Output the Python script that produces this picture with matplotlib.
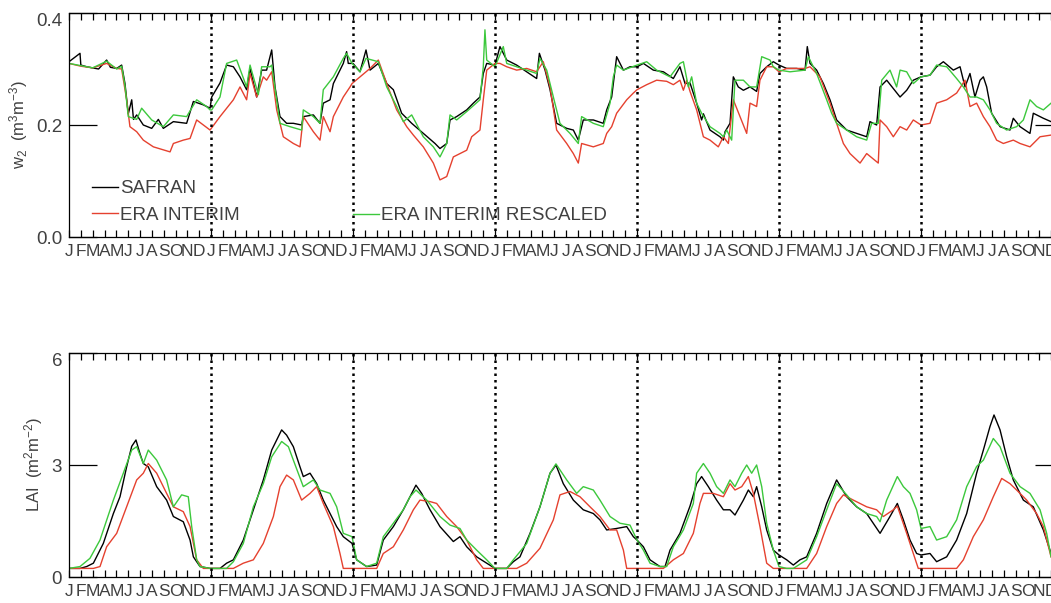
import matplotlib
matplotlib.use('Agg')
import matplotlib.pyplot as plt
import numpy as np
from matplotlib import font_manager as fm

# ---------------- data (time in months since start of year 1) ----------------
months = ['J', 'F', 'M', 'A', 'M', 'J', 'J', 'A', 'S', 'O', 'N', 'D']
n_years = 7

w2_safran = [
    (0, 0.313), (0.93, 0.328), (1.0, 0.307), (1.5, 0.304), (2.5, 0.300), (3.18, 0.316), (3.5, 0.303),
    (4.03, 0.301), (4.45, 0.307), (4.73, 0.274), (5.01, 0.22), (5.3, 0.245), (5.45, 0.21), (5.72, 0.218),
    (6.28, 0.20), (6.99, 0.194), (7.55, 0.21), (7.97, 0.194), (8.82, 0.206), (9.94, 0.203), (10.51, 0.242),
    (11.35, 0.236), (11.92, 0.23),
    (12.06, 0.25), (12.76, 0.275), (13.32, 0.307), (13.89, 0.304), (14.45, 0.286), (15.01, 0.263), (15.3, 0.301),
    (15.86, 0.25), (16.28, 0.298), (16.7, 0.298), (17.13, 0.334), (17.41, 0.268), (17.83, 0.215), (18.39, 0.203),
    (18.96, 0.203), (19.66, 0.2), (19.8, 0.215), (20.65, 0.218), (21.21, 0.203), (21.49, 0.239), (22.06, 0.245),
    (22.34, 0.274), (22.62, 0.286), (23.18, 0.31), (23.46, 0.331), (23.6, 0.31), (24.0, 0.31),
    (24.59, 0.295), (25.1, 0.334), (25.44, 0.298), (26.14, 0.31), (26.85, 0.274), (27.41, 0.263), (28.11, 0.221),
    (28.96, 0.203), (29.94, 0.185), (30.93, 0.167), (31.35, 0.158), (31.92, 0.167), (32.2, 0.209), (32.76, 0.215),
    (33.61, 0.227), (34.17, 0.239), (34.73, 0.25), (35.01, 0.292), (35.3, 0.31), (36.0, 0.307),
    (36.42, 0.34), (36.99, 0.316), (37.83, 0.307), (38.68, 0.295), (39.52, 0.283), (39.75, 0.328), (40.23, 0.298),
    (40.65, 0.263), (41.21, 0.203), (42.06, 0.194), (42.62, 0.191), (43.04, 0.173), (43.46, 0.209), (44.31, 0.209),
    (45.15, 0.203), (45.44, 0.227), (45.86, 0.25), (46.28, 0.322), (46.85, 0.298), (47.41, 0.304), (48.0, 0.304),
    (48.54, 0.31), (49.38, 0.298), (50.23, 0.295), (51.07, 0.283), (51.63, 0.304), (52.06, 0.274), (52.48, 0.275),
    (53.04, 0.239), (53.46, 0.209), (53.61, 0.22), (54.17, 0.191), (55.01, 0.179), (55.3, 0.173), (55.44, 0.188),
    (55.86, 0.203), (56.14, 0.286), (56.56, 0.268), (56.99, 0.262), (57.55, 0.268), (58.11, 0.26), (58.39, 0.292),
    (58.96, 0.304), (59.52, 0.313), (60.0, 0.307),
    (60.65, 0.301), (61.49, 0.301), (62.2, 0.298), (62.39, 0.34), (62.62, 0.31), (63.18, 0.298), (63.75, 0.274),
    (64.31, 0.245), (64.87, 0.209), (65.72, 0.191), (66.56, 0.185), (67.41, 0.179), (67.69, 0.206), (68.25, 0.2),
    (68.54, 0.268), (69.1, 0.28), (69.66, 0.265), (70.23, 0.25), (70.79, 0.262), (71.35, 0.28), (72.0, 0.286),
    (72.76, 0.289), (73.32, 0.304), (73.89, 0.313), (74.73, 0.298), (75.3, 0.304), (75.72, 0.268), (76.14, 0.292),
    (76.56, 0.25), (76.99, 0.28), (77.27, 0.286), (77.55, 0.268), (77.97, 0.221), (78.68, 0.197), (79.52, 0.191),
    (79.8, 0.212), (80.37, 0.197), (81.21, 0.185), (81.49, 0.221), (82.34, 0.212), (82.99, 0.206),
]

w2_era = [
    (0, 0.31), (1.0, 0.305), (2.0, 0.302), (3.18, 0.31), (4.03, 0.301), (4.45, 0.30), (4.87, 0.245), (5.15, 0.197),
    (5.72, 0.188), (6.28, 0.173), (7.13, 0.161), (8.54, 0.152), (8.82, 0.167), (9.66, 0.173), (10.23, 0.176),
    (10.79, 0.209), (11.35, 0.2), (11.92, 0.191),
    (12.76, 0.215), (13.89, 0.245), (14.45, 0.268), (15.01, 0.245), (15.3, 0.292), (15.86, 0.25), (16.42, 0.286),
    (16.7, 0.28), (17.13, 0.295), (17.55, 0.227), (18.11, 0.179), (18.96, 0.167), (19.52, 0.161), (19.8, 0.215),
    (20.65, 0.188), (21.21, 0.173), (21.49, 0.215), (22.06, 0.188), (22.34, 0.215), (23.18, 0.25), (23.75, 0.268),
    (23.92, 0.274),
    (24.59, 0.286), (25.44, 0.301), (26.14, 0.316), (26.85, 0.274), (27.69, 0.227), (28.54, 0.197), (29.1, 0.182),
    (29.94, 0.161), (30.79, 0.132), (31.35, 0.102), (31.92, 0.108), (32.48, 0.143), (33.04, 0.149), (33.61, 0.155),
    (34.03, 0.179), (34.73, 0.191), (35.01, 0.245), (35.3, 0.298), (36.0, 0.31),
    (36.42, 0.31), (36.99, 0.304), (37.83, 0.298), (38.68, 0.301), (39.52, 0.295), (40.08, 0.313), (40.65, 0.268),
    (41.21, 0.191), (42.06, 0.167), (42.62, 0.149), (43.04, 0.132), (43.32, 0.167), (44.31, 0.161), (45.15, 0.167),
    (45.44, 0.185), (45.86, 0.197), (46.28, 0.221), (47.13, 0.245), (47.69, 0.257), (48.0, 0.263),
    (48.82, 0.272), (49.66, 0.28), (50.51, 0.278), (51.07, 0.272), (51.63, 0.28), (51.92, 0.262), (52.2, 0.28),
    (52.48, 0.26), (53.04, 0.227), (53.61, 0.179), (54.17, 0.173), (54.87, 0.161), (55.3, 0.179), (55.72, 0.167),
    (56.14, 0.245), (56.7, 0.215), (57.27, 0.185), (57.55, 0.239), (58.11, 0.233), (58.39, 0.28), (58.96, 0.304),
    (59.52, 0.304), (60.0, 0.295),
    (60.65, 0.301), (61.49, 0.301), (62.2, 0.301), (62.62, 0.304), (63.46, 0.286), (64.31, 0.239), (64.87, 0.203),
    (65.44, 0.167), (66.0, 0.149), (66.85, 0.132), (67.41, 0.149), (68.39, 0.132), (68.54, 0.209), (69.1, 0.197),
    (69.66, 0.179), (70.23, 0.197), (70.79, 0.191), (71.35, 0.209), (72.0, 0.2),
    (72.76, 0.203), (73.32, 0.239), (74.17, 0.245), (75.01, 0.257), (75.72, 0.28), (76.14, 0.233), (76.7, 0.239),
    (77.27, 0.215), (77.83, 0.197), (78.39, 0.173), (78.96, 0.167), (79.8, 0.173), (80.37, 0.167), (81.21, 0.161),
    (82.06, 0.179), (82.99, 0.182),
]

w2_rescaled = [
    (0, 0.31), (1.0, 0.306), (2.0, 0.302), (3.18, 0.314), (4.03, 0.30), (4.45, 0.305), (4.73, 0.27), (5.01, 0.215),
    (5.72, 0.21), (6.14, 0.23), (6.99, 0.209), (7.97, 0.197), (8.82, 0.218), (9.94, 0.215), (10.79, 0.245),
    (11.63, 0.233), (11.92, 0.227),
    (12.06, 0.227), (12.76, 0.25), (13.32, 0.31), (14.17, 0.316), (15.01, 0.268), (15.3, 0.307), (16.0, 0.254),
    (16.28, 0.304), (16.99, 0.304), (17.13, 0.307), (17.55, 0.245), (17.83, 0.203), (18.68, 0.197), (19.66, 0.191),
    (19.8, 0.227), (20.65, 0.215), (21.21, 0.203), (21.49, 0.263), (22.34, 0.286), (23.18, 0.319), (23.46, 0.328),
    (23.92, 0.31),
    (24.59, 0.295), (25.1, 0.319), (26.14, 0.313), (26.85, 0.268), (27.69, 0.233), (28.25, 0.206), (28.96, 0.218),
    (29.94, 0.179), (30.79, 0.161), (31.35, 0.143), (31.92, 0.167), (32.2, 0.218), (32.76, 0.209), (33.61, 0.224),
    (34.73, 0.245), (35.01, 0.304), (35.15, 0.37), (35.3, 0.316), (36.0, 0.304),
    (36.7, 0.34), (36.99, 0.31), (37.83, 0.304), (38.68, 0.298), (39.52, 0.292), (39.8, 0.319), (40.37, 0.298),
    (40.93, 0.25), (41.49, 0.203), (42.34, 0.185), (43.04, 0.167), (43.32, 0.215), (44.31, 0.203), (45.15, 0.197),
    (45.72, 0.239), (46.0, 0.286), (46.28, 0.307), (46.85, 0.298), (48.0, 0.307),
    (48.82, 0.313), (49.66, 0.298), (50.79, 0.286), (51.63, 0.31), (51.92, 0.313), (52.34, 0.268), (52.62, 0.286),
    (53.04, 0.239), (53.46, 0.221), (54.17, 0.197), (55.01, 0.185), (55.3, 0.179), (55.58, 0.191), (56.0, 0.173),
    (56.28, 0.28), (56.99, 0.28), (57.55, 0.268), (58.11, 0.268), (58.54, 0.322), (59.24, 0.316), (59.52, 0.304),
    (60.0, 0.298),
    (60.93, 0.295), (62.2, 0.298), (62.48, 0.322), (63.18, 0.292), (64.03, 0.245), (64.45, 0.221), (64.87, 0.203),
    (65.72, 0.191), (66.56, 0.179), (67.41, 0.173), (67.83, 0.203), (68.39, 0.203), (68.68, 0.28), (69.38, 0.298),
    (69.94, 0.268), (70.23, 0.298), (70.79, 0.295), (71.35, 0.274), (72.0, 0.286),
    (72.76, 0.289), (73.32, 0.307), (74.17, 0.304), (75.01, 0.283), (75.58, 0.268), (76.14, 0.25), (76.7, 0.25),
    (77.27, 0.245), (77.83, 0.227), (78.39, 0.203), (79.24, 0.191), (80.08, 0.197), (80.65, 0.209), (81.21, 0.245),
    (81.77, 0.233), (82.34, 0.227), (82.99, 0.239),
]

lai_safran = [
    (0, 0.23), (0.93, 0.23), (1.49, 0.28), (2.06, 0.37), (2.9, 0.9), (3.75, 1.7), (4.31, 2.15), (4.87, 2.95),
    (5.3, 3.5), (5.66, 3.67), (6.0, 3.3), (6.28, 3.04), (6.7, 2.95), (7.41, 2.42), (8.25, 2.06), (8.82, 1.62),
    (9.66, 1.48), (10.23, 0.99), (10.51, 0.54), (11.07, 0.28), (11.92, 0.23),
    (12.76, 0.23), (13.32, 0.37), (13.89, 0.46), (14.73, 0.99), (15.58, 1.8), (16.42, 2.6), (17.13, 3.4),
    (17.97, 3.94), (18.39, 3.8), (18.96, 3.49), (19.52, 2.95), (19.8, 2.69), (20.37, 2.78), (20.93, 2.5),
    (21.49, 2.06), (22.06, 1.7), (22.62, 1.35), (23.18, 1.08), (23.92, 0.9),
    (24.31, 0.46), (25.15, 0.28), (26.0, 0.32), (26.56, 0.99), (27.41, 1.35), (28.25, 1.8), (28.82, 2.15),
    (29.32, 2.46), (29.8, 2.24), (30.51, 1.8), (31.35, 1.35), (32.48, 0.95), (33.04, 1.08), (33.61, 0.81),
    (34.45, 0.54), (35.3, 0.37), (36.0, 0.23),
    (36.99, 0.23), (37.55, 0.41), (38.11, 0.54), (38.96, 1.17), (39.8, 1.88), (40.65, 2.78), (41.15, 3.0),
    (41.77, 2.5), (42.62, 2.06), (43.46, 1.8), (44.31, 1.7), (44.87, 1.53), (45.44, 1.26), (46.28, 1.3),
    (47.13, 1.35), (47.69, 1.08), (48.0, 0.99),
    (48.54, 0.81), (49.1, 0.46), (49.94, 0.28), (50.37, 0.28), (50.79, 0.72), (51.63, 1.17), (52.48, 1.9),
    (53.04, 2.5), (53.46, 2.69), (54.03, 2.42), (54.73, 2.06), (55.3, 1.8), (55.86, 1.8), (56.28, 1.66),
    (56.99, 2.06), (57.41, 2.33), (57.83, 2.15), (58.11, 2.42), (58.54, 1.88), (58.96, 1.26), (59.52, 0.72),
    (60.0, 0.59),
    (60.65, 0.46), (61.21, 0.32), (61.77, 0.46), (62.34, 0.54), (63.18, 1.17), (64.03, 1.97), (64.87, 2.6),
    (65.72, 2.15), (66.56, 1.88), (67.41, 1.7), (68.54, 1.17), (69.38, 1.62), (70.0, 1.97), (70.51, 1.53),
    (71.07, 0.99), (71.63, 0.63), (72.0, 0.59),
    (72.76, 0.63), (73.32, 0.41), (74.17, 0.54), (75.01, 0.99), (75.86, 1.7), (76.7, 2.78), (77.27, 3.4),
    (77.83, 4.03), (78.17, 4.34), (78.68, 3.94), (79.24, 3.22), (79.8, 2.6), (80.65, 2.06), (81.49, 1.88),
    (82.34, 1.26), (82.99, 0.63),
]

lai_era = [
    (0, 0.23), (2.06, 0.23), (2.62, 0.28), (3.18, 0.81), (4.03, 1.17), (4.87, 1.88), (5.72, 2.6), (6.28, 2.78),
    (6.7, 3.04), (7.41, 2.78), (8.25, 2.24), (8.82, 1.88), (9.66, 1.75), (10.23, 1.35), (10.79, 0.46),
    (11.35, 0.23), (11.92, 0.23),
    (13.89, 0.23), (14.73, 0.37), (15.58, 0.46), (16.42, 0.9), (17.27, 1.62), (17.83, 2.42), (18.39, 2.73),
    (18.96, 2.6), (19.66, 2.06), (20.37, 2.24), (20.93, 2.42), (21.49, 1.97), (22.34, 1.35), (22.9, 0.63),
    (23.18, 0.23), (23.92, 0.23),
    (26.0, 0.23), (26.56, 0.63), (27.41, 0.81), (28.25, 1.26), (29.1, 1.8), (29.66, 2.06), (30.51, 2.02),
    (31.07, 1.97), (31.92, 1.62), (32.76, 1.35), (33.61, 0.99), (34.45, 0.46), (35.01, 0.23), (36.0, 0.23),
    (37.83, 0.23), (38.68, 0.37), (39.8, 0.77), (40.93, 1.53), (41.49, 2.2), (42.34, 2.29), (43.18, 2.15),
    (44.03, 1.88), (44.87, 1.62), (45.72, 1.26), (46.28, 1.26), (46.85, 0.72), (47.13, 0.23), (48.0, 0.23),
    (50.23, 0.23), (51.07, 0.46), (51.92, 0.63), (52.76, 1.17), (53.32, 1.97), (53.61, 2.24), (54.45, 2.24),
    (55.3, 2.15), (55.86, 2.5), (56.28, 2.33), (56.85, 2.42), (57.41, 2.69), (57.83, 2.24), (58.39, 1.35),
    (58.96, 0.37), (59.52, 0.23), (60.0, 0.23),
    (62.34, 0.23), (63.18, 0.63), (64.03, 1.35), (64.87, 1.97), (65.44, 2.2), (66.28, 2.06), (67.41, 1.88),
    (68.25, 1.8), (68.82, 1.62), (69.66, 1.8), (70.0, 1.9), (70.79, 1.17), (71.35, 0.63), (71.77, 0.23),
    (72.0, 0.23),
    (75.01, 0.23), (75.58, 0.46), (76.42, 1.08), (77.27, 1.53), (78.11, 2.15), (78.82, 2.64), (79.52, 2.5),
    (80.08, 2.33), (80.93, 2.06), (81.77, 1.7), (82.34, 1.35), (82.99, 0.54),
]

lai_rescaled = [
    (0, 0.23), (0.93, 0.28), (1.77, 0.5), (2.62, 0.99), (3.75, 2.06), (4.59, 2.78), (5.3, 3.4), (5.72, 3.49),
    (6.28, 3.04), (6.7, 3.4), (7.41, 3.13), (8.25, 2.6), (8.82, 1.88), (9.52, 2.2), (10.08, 2.15), (10.37, 1.35),
    (10.79, 0.46), (11.07, 0.28), (11.92, 0.23),
    (13.32, 0.23), (13.89, 0.41), (14.73, 0.9), (15.58, 1.88), (16.42, 2.5), (17.13, 3.22), (17.97, 3.63),
    (18.54, 3.49), (18.96, 3.13), (19.8, 2.42), (20.65, 2.6), (21.21, 2.33), (22.06, 2.24), (22.62, 1.88),
    (23.18, 1.17), (23.92, 1.08),
    (24.31, 0.46), (25.15, 0.28), (26.0, 0.37), (26.56, 1.08), (27.41, 1.44), (28.25, 1.8), (28.82, 2.15),
    (29.32, 2.33), (30.23, 2.06), (31.35, 1.62), (32.2, 1.39), (33.04, 1.3), (33.61, 0.99), (34.45, 0.72),
    (35.3, 0.46), (36.0, 0.23),
    (36.99, 0.23), (37.55, 0.46), (38.68, 0.9), (39.8, 1.88), (40.65, 2.78), (41.15, 3.03), (42.06, 2.6),
    (42.9, 2.24), (43.46, 2.42), (44.31, 2.33), (44.87, 2.06), (45.72, 1.62), (46.56, 1.44), (47.41, 1.39),
    (48.0, 0.99),
    (48.54, 0.72), (49.1, 0.37), (49.94, 0.28), (50.51, 0.28), (51.07, 0.81), (51.92, 1.26), (52.76, 1.97),
    (53.04, 2.78), (53.61, 3.04), (54.17, 2.78), (54.73, 2.42), (55.3, 2.24), (55.86, 2.6), (56.28, 2.42),
    (56.85, 2.78), (57.27, 3.0), (57.69, 2.78), (58.11, 3.0), (58.54, 2.42), (58.96, 1.44), (59.52, 0.72),
    (60.0, 0.28),
    (60.65, 0.23), (61.21, 0.23), (62.34, 0.46), (63.18, 1.08), (64.03, 1.8), (64.87, 2.5), (65.72, 2.2),
    (66.56, 1.88), (67.41, 1.7), (68.25, 1.62), (68.54, 1.48), (69.1, 2.06), (70.0, 2.69), (70.51, 2.42),
    (71.07, 2.24), (71.63, 1.8), (72.0, 1.3),
    (72.76, 1.35), (73.32, 0.99), (74.17, 1.08), (75.01, 1.53), (75.86, 2.42), (76.7, 2.96), (77.27, 3.13),
    (78.11, 3.71), (78.68, 3.49), (79.52, 2.78), (80.37, 2.42), (81.21, 2.24), (82.06, 1.8), (82.62, 1.17),
    (82.99, 0.54),
]

series_names = ['SAFRAN', 'ERA INTERIM', 'ERA INTERIM RESCALED']
series_colors = ['#000000', '#e5412f', '#3cc83c']

# ---------------- fonts ----------------
names = {f.name for f in fm.fontManager.ttflist}
main_font = 'Liberation Sans' if 'Liberation Sans' in names else 'DejaVu Sans'
narrow_font = 'Liberation Sans Narrow' if 'Liberation Sans Narrow' in names else main_font
plt.rcParams['font.family'] = [main_font, 'DejaVu Sans']
plt.rcParams['mathtext.fontset'] = 'custom'
plt.rcParams['mathtext.rm'] = main_font
plt.rcParams['mathtext.it'] = main_font
plt.rcParams['mathtext.default'] = 'regular'
text_color = '#404040'

# ---------------- figure ----------------
W, H = 1051, 603
fig = plt.figure(figsize=(W / 100, H / 100), dpi=100)
x0, x1 = 69, 1063
ax1 = fig.add_axes([x0 / W, 1 - 237 / H, (x1 - x0) / W, 224 / H])
ax2 = fig.add_axes([x0 / W, 1 - 577 / H, (x1 - x0) / W, 224 / H])

panels = [
    (ax1, [w2_safran, w2_era, w2_rescaled], (0, 0.4), [0, 0.2, 0.4], ['0.0', '0.2', '0.4']),
    (ax2, [lai_safran, lai_era, lai_rescaled], (0, 6), [0, 3, 6], ['0', '3', '6']),
]

handles = []
for ax, sets, ylim, yt, ytl in panels:
    hs = []
    for data, col in zip(sets, series_colors):
        t = [p[0] for p in data]
        v = [p[1] for p in data]
        h, = ax.plot(t, v, color=col, lw=1.0)
        hs.append(h)
    handles.append(hs)
    for yr in range(1, n_years):
        ax.axvline(12 * yr, color='black', lw=1.8, ls=(0, (1, 1.6)), zorder=3)
    ax.set_xlim(0, 12 * n_years)
    ax.set_ylim(*ylim)
    ax.set_xticks(np.arange(12 * n_years))
    ax.set_xticklabels(months * n_years, fontfamily=narrow_font, fontsize=12.5, color=text_color)
    ax.tick_params(axis='x', direction='in', length=5, width=0.9, top=True, bottom=True, pad=5)
    ax.set_yticks(yt)
    labs = ax.set_yticklabels(ytl, fontsize=13.5, color=text_color)
    labs[-1].set_va('top')
    ax.tick_params(axis='y', direction='in', length=20, width=0.9, left=True, right=True, pad=5)
    for s in ax.spines.values():
        s.set_linewidth(0.9)

fig.text(19 / W, 1 - 124 / H, r'w$_2$  (m$^3$m$^{-3}$)', rotation=90, ha='center', va='center',
         fontsize=12, color=text_color)
fig.text(34 / W, 1 - 465 / H, r'LAI  (m$^2$m$^{-2}$)', rotation=90, ha='center', va='center',
         fontsize=12, color=text_color)

leg_kw = dict(frameon=False, handlelength=1.4, handletextpad=0.1, labelspacing=0.5,
              borderpad=0, borderaxespad=0, fontsize=13.5, labelcolor=text_color, loc='upper left')
leg1 = ax1.legend(handles[0][:2], series_names[:2], bbox_to_anchor=((92 - x0) / (x1 - x0), (237 - 180) / 224),
                  **leg_kw)
ax1.add_artist(leg1)
ax1.legend(handles[0][2:], series_names[2:], bbox_to_anchor=((353 - x0) / (x1 - x0), (237 - 207) / 224),
           **leg_kw)

fig.savefig('out.png', dpi=100)
